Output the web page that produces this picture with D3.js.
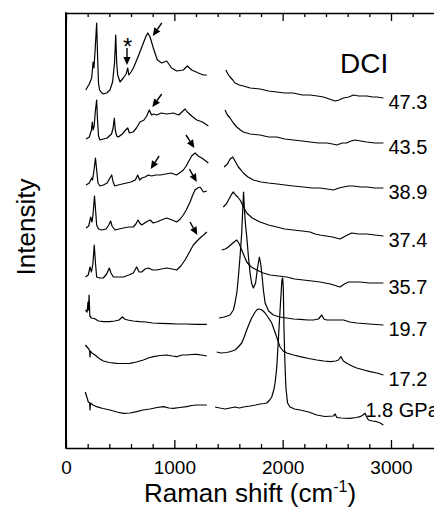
<!DOCTYPE html>
<html><head><meta charset="utf-8">
<script src="https://cdn.jsdelivr.net/npm/d3@7"></script>
<style>
body{margin:0;background:#fff;}
svg{display:block;}
text{font-family:"Liberation Sans", Arial, Helvetica, sans-serif;fill:#000;}
</style>
</head><body>
<svg id="chart" width="434" height="508"></svg>
<script>
// ---------- data (Raman shift in cm-1, intensity in arbitrary stacked units) ----------
const pressureLabels = ["47.3","43.5","38.9","37.4","35.7","19.7","17.2","1.8 GPa"];
const majorTicks = [0,1000,2000,3000];
const minorTicks = [200,400,600,800,1200,1400,1600,1800,2200,2400,2600,2800,3200,3400];

const p473Low = [[182,358],[215,364],[237,370],[250,386],[258,380],[270,400],[283,425],[292,390],[300,365],[310,358],[323,356],[345,354],[375,355],[406,358],[430,366],[448,385],[459,413],[468,385],[477,373],[499,366],[529,370],[555,374],[570,380],[580,373],[600,376],[622,380],[668,392],[714,405],[740,412],[755,415],[776,411],[806,400],[843,388],[883,385],[929,387],[975,380],[1022,377],[1083,378],[1120,382],[1160,378],[1222,375],[1268,373],[1300,373]];
const p473High = [[1475,378],[1495,374],[1514,371],[1540,368],[1560,365],[1600,363],[1637,362],[1700,360],[1791,359],[1870,357],[1945,356],[2020,355],[2099,355],[2180,353],[2253,353],[2320,352],[2376,351],[2430,349],[2484,347],[2520,348],[2561,350],[2610,351],[2653,353],[2700,352],[2777,352],[2830,351],[2869,351],[2930,350]];

const p435Low = [[185,309],[215,311],[235,318],[243,326],[250,318],[260,322],[272,338],[283,348],[290,330],[300,312],[314,308],[345,309],[380,310],[420,314],[435,320],[446,330],[455,318],[468,312],[483,311],[520,314],[550,318],[570,320],[585,315],[620,316],[650,320],[683,326],[720,328],[745,332],[769,338],[790,333],[810,334],[837,333],[880,335],[930,334],[991,335],[1040,333],[1070,336],[1099,339],[1120,336],[1160,332],[1207,328],[1260,326],[1314,322]];
const p435High = [[1468,338],[1490,333],[1514,330],[1545,325],[1576,321],[1610,318],[1637,316],[1700,314],[1791,313],[1870,311],[1945,311],[2020,309],[2099,308],[2180,307],[2253,306],[2330,305],[2407,305],[2460,304],[2499,303],[2550,305],[2591,305],[2630,307],[2668,308],[2720,307],[2777,306],[2850,305],[2930,305]];

const p389Low = [[185,263],[215,265],[237,270],[245,268],[255,275],[272,290],[283,278],[295,265],[314,262],[345,263],[380,265],[405,270],[422,273],[435,266],[450,262],[480,263],[520,264],[560,265],[600,266],[640,268],[662,273],[680,268],[700,270],[730,271],[760,273],[790,272],[830,273],[870,273],[920,274],[970,275],[1020,273],[1060,276],[1083,278],[1110,282],[1129,286],[1160,292],[1191,295],[1220,292],[1253,290],[1290,287],[1314,285]];
const p389High = [[1459,281],[1490,284],[1515,289],[1539,291],[1560,287],[1591,281],[1615,278],[1637,275],[1680,271],[1730,268],[1800,266],[1868,265],[1950,264],[2022,263],[2100,262],[2191,261],[2270,260],[2345,260],[2410,259],[2468,258],[2520,260],[2561,261],[2610,262],[2653,262],[2720,261],[2777,261],[2850,260],[2930,260]];

const p374Low = [[185,220],[210,222],[228,231],[240,226],[250,234],[263,252],[275,235],[283,223],[300,219],[330,218],[370,219],[395,223],[412,227],[425,222],[452,218],[490,219],[529,220],[580,221],[621,221],[645,224],[665,228],[680,225],[699,223],[740,226],[776,228],[805,225],[837,226],[880,228],[930,230],[980,228],[1022,226],[1055,229],[1083,233],[1110,238],[1145,246],[1170,253],[1191,258],[1215,260],[1237,261],[1268,256],[1300,257]];
const p374High = [[1452,241],[1480,244],[1510,250],[1530,254],[1545,256],[1565,253],[1585,251],[1607,248],[1635,242],[1668,235],[1720,230],[1791,226],[1870,223],[1945,221],[2020,219],[2099,218],[2180,217],[2253,216],[2300,214],[2345,213],[2400,212],[2460,211],[2530,209],[2580,212],[2638,215],[2700,214],[2777,214],[2850,213],[2930,212]];

const p357Low = [[180,171],[205,173],[222,181],[235,176],[248,184],[261,203],[272,185],[283,171],[310,170],[344,170],[375,174],[400,180],[415,175],[437,171],[480,171],[529,171],[580,173],[621,175],[652,181],[675,176],[699,176],[730,179],[760,180],[800,178],[837,178],[880,179],[930,180],[980,179],[1022,178],[1060,182],[1099,188],[1140,196],[1175,203],[1210,207],[1237,210],[1270,213],[1300,216]];
const p357High = [[1438,198],[1470,199],[1499,201],[1540,205],[1576,208],[1600,204],[1622,198],[1645,192],[1668,186],[1710,181],[1761,178],[1820,175],[1884,173],[1960,172],[2038,171],[2110,169],[2191,168],[2270,167],[2345,166],[2440,164],[2530,161],[2570,164],[2607,166],[2660,166],[2715,166],[2800,165],[2870,165],[2930,165]];

const p197Low = [[180,138],[195,136],[203,146],[208,138],[213,153],[220,132],[235,130],[262,129.5],[300,127],[345,126.3],[400,126.3],[450,127],[490,128],[510,130],[522,131],[540,129],[570,128],[620,127],[680,126.3],[740,126],[800,125],[870,124.7],[950,124.3],[1030,124],[1110,124],[1200,123.7],[1300,123.7]];
const p197High = [[1413,130],[1460,131],[1514,133],[1545,138],[1560,145],[1578,156],[1591,171],[1607,192],[1622,215],[1632,240],[1639,256],[1647,238],[1658,222],[1668,212],[1685,190],[1699,175],[1715,164],[1730,160],[1750,165],[1768,180],[1785,191],[1796,185],[1807,175],[1822,158],[1838,145],[1870,137],[1914,133],[1970,131],[2038,130],[2100,129],[2161,128.7],[2230,128],[2284,128],[2330,129],[2361,133],[2380,129],[2407,128],[2480,128],[2561,128],[2620,126],[2684,125],[2800,124],[2930,123]];

const p172Low = [[178,103],[195,101],[210,99],[218,97],[222,91],[226,97],[240,95],[268,93],[300,90],[344,87],[400,85.5],[468,84.7],[530,84.5],[591,84.7],[650,86],[714,88],[760,90],[806,91.3],[870,92.5],[930,93],[980,92],[1022,91.3],[1070,93],[1114,93],[1160,93.5],[1207,93.7],[1250,93],[1300,92]];
const p172High = [[1391,96],[1430,95],[1484,95.5],[1520,96.5],[1560,98],[1590,101],[1622,105],[1645,111],[1668,118],[1690,124],[1714,130],[1740,135],[1760,138],[1775,139],[1800,138.5],[1820,137],[1838,135],[1870,130],[1899,125],[1925,117],[1945,111],[1960,106],[1976,101],[2005,97],[2038,95],[2100,93],[2161,91.3],[2240,89.5],[2315,88],[2380,87],[2438,86.3],[2490,87],[2515,88],[2539,91.3],[2560,87],[2592,84.7],[2640,82],[2684,80],[2750,78],[2807,76.3],[2870,75],[2930,73]];

const p18Low = [[178,56],[192,51],[206,46],[218,45],[222,38],[226,45],[250,43],[283,41.3],[340,39.5],[406,38],[470,36],[529,34.7],[590,35],[652,36.3],[710,38],[776,39],[840,40.5],[899,41.3],[950,40],[991,39.7],[1050,40.5],[1114,41.3],[1160,42.5],[1207,43],[1250,43],[1300,43]];
const p18High = [[1376,41],[1420,40],[1470,39],[1514,40],[1560,41],[1600,40],[1637,41],[1700,42],[1750,43],[1791,44],[1830,44.5],[1853,45],[1880,48],[1899,51],[1918,58],[1930,65],[1945,80],[1956,100],[1967,121],[1980,145],[1993,168],[2000,170],[2006,160],[2012,120],[2020,88],[2030,60],[2045,45],[2068,41],[2110,39],[2161,38],[2240,36],[2315,33],[2390,31.5],[2468,32],[2484,34],[2500,30.5],[2540,30],[2622,29.7],[2680,30.5],[2715,31.3],[2740,33],[2761,34.7],[2775,31],[2792,28],[2830,27],[2869,26.3],[2900,25],[2930,23]];

const spectraLow = [p473Low,p435Low,p389Low,p374Low,p357Low,p197Low,p172Low,p18Low];
const spectraHigh = [p473High,p435High,p389High,p374High,p357High,p197High,p172High,p18High];

// arrows: [shiftFrom, intensityFrom, shiftTo, intensityTo]
const arrows = [[884,425,801,412],[563,400,563,383],[884,354,797,341],[1108,313,1185,300],[859,292,782,279],[1139,279,1207,266],[1145,226,1212,213]];
const asteriskPos = [569,406];

// ---------- chart ----------
const svg = d3.select("#chart");
const x = d3.scaleLinear().domain([0,3500]).range([66, 66 + 3500*0.108333]);
const y = d3.scaleLinear().domain([0,435]).range([448,13]);

const line = d3.line().x(d=>x(d[0])).y(d=>y(d[1]));

const g = svg.append("g");
spectraLow.concat(spectraHigh).forEach(s=>{
  g.append("path").attr("d",line(s)).attr("fill","none")
   .attr("stroke","#000").attr("stroke-width",1.2).attr("stroke-linejoin","round");
});

// axes
function styleAxis(sel){
  sel.selectAll("path.domain").attr("stroke","#000").attr("stroke-width",1.6);
  sel.selectAll(".tick line").attr("stroke","#000").attr("stroke-width",1.3);
}
const bottomMajor = svg.append("g").attr("transform","translate(0,448)")
  .call(d3.axisBottom(x).tickValues(majorTicks).tickSize(-8).tickSizeOuter(0).tickPadding(13).tickFormat(d3.format("d")));
styleAxis(bottomMajor);
bottomMajor.selectAll(".tick text").attr("font-size",19).attr("font-family",'"Liberation Sans", Arial, sans-serif').attr("fill","#000");
const bottomMinor = svg.append("g").attr("transform","translate(0,448)")
  .call(d3.axisBottom(x).tickValues(minorTicks).tickSize(-4).tickFormat(""));
bottomMinor.select("path.domain").remove();
styleAxis(bottomMinor);

const topMajor = svg.append("g").attr("transform","translate(0,13)")
  .call(d3.axisTop(x).tickValues(majorTicks).tickSize(-8).tickSizeOuter(0).tickFormat(""));
styleAxis(topMajor);
const topMinor = svg.append("g").attr("transform","translate(0,13)")
  .call(d3.axisTop(x).tickValues(minorTicks).tickSize(-4).tickFormat(""));
topMinor.select("path.domain").remove();
styleAxis(topMinor);

svg.append("line").attr("x1",x(0)).attr("x2",x(0)).attr("y1",y(435)-0.8).attr("y2",y(0)+0.8)
  .attr("stroke","#000").attr("stroke-width",2);

// pressure labels
pressureLabels.forEach((lab,i)=>{
  const last = spectraHigh[i][spectraHigh[i].length-1];
  const isLast = i === pressureLabels.length-1;
  svg.append("text")
    .attr("x", isLast ? x(last[0]) - 18 : x(last[0]) + 5)
    .attr("y", isLast ? y(last[1]) - 8 : y(last[1]) + 11)
    .attr("font-size",20).text(lab);
});

// DCI
svg.append("text").attr("x",340).attr("y",73).attr("font-size",28).text("DCI");

// arrows
arrows.forEach(a=>{
  const x1=x(a[0]), y1=y(a[1]), x2=x(a[2]), y2=y(a[3]);
  const dx=x2-x1, dy=y2-y1, L=Math.hypot(dx,dy), ux=dx/L, uy=dy/L;
  const hl=8, hw=3.6;
  const bx=x2-ux*hl, by=y2-uy*hl;
  svg.append("line").attr("x1",x1).attr("y1",y1).attr("x2",bx).attr("y2",by)
    .attr("stroke","#000").attr("stroke-width",1.4);
  svg.append("path").attr("d",`M${x2},${y2}L${bx-uy*hw},${by+ux*hw}L${bx+uy*hw},${by-ux*hw}Z`).attr("fill","#000");
});
svg.append("text").attr("x",x(asteriskPos[0])).attr("y",y(asteriskPos[1])+13)
  .attr("text-anchor","middle").attr("font-size",24).attr("font-weight","normal").text("*");

// axis titles
const xt = svg.append("text").attr("x",250).attr("y",502).attr("text-anchor","middle").attr("font-size",26);
xt.append("tspan").text("Raman shift (cm");
xt.append("tspan").attr("font-size",16).attr("dy",-10).text("-1");
xt.append("tspan").attr("dy",10).text(")");

svg.append("text").attr("transform","translate(35,227) rotate(-90)").attr("text-anchor","middle")
  .attr("font-size",26).text("Intensity");
</script>
</body></html>
